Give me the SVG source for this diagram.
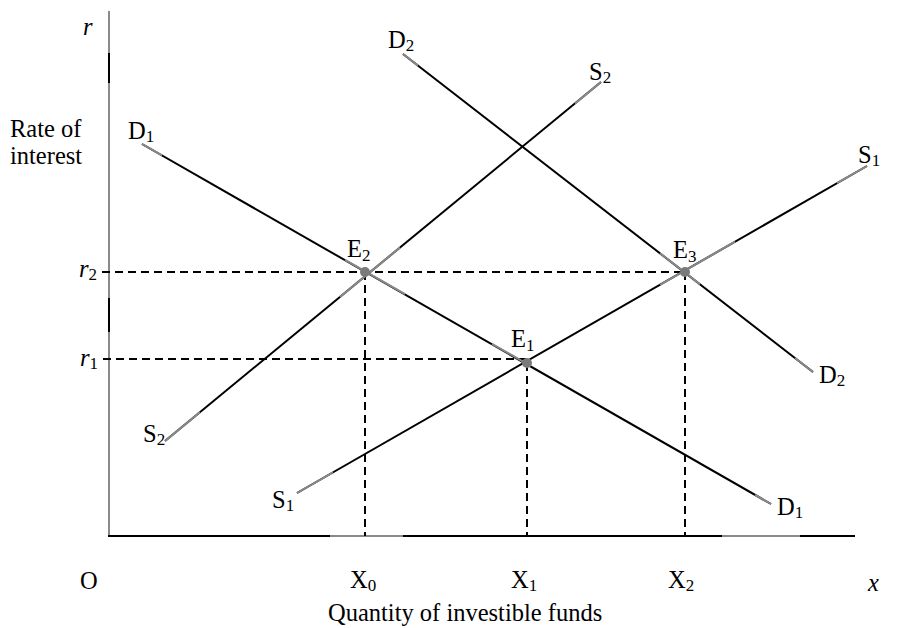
<svg xmlns="http://www.w3.org/2000/svg" width="911" height="628" viewBox="0 0 911 628">
<style>
text{font-family:"Liberation Serif","Times New Roman",serif;font-size:24.5px;fill:#000}
.i{font-style:italic}
.sub{font-size:17px;font-style:normal}
.k{stroke:#000;stroke-width:2;fill:none}
.g{stroke:#8a8a8a;stroke-width:2;fill:none}
.d{stroke:#000;stroke-width:2;stroke-dasharray:8 5;fill:none}
.dot{fill:#7a7a7a}
</style>
<rect width="911" height="628" fill="#fff"/>
<g id="axes">
<line class="g" x1="109" y1="11" x2="109" y2="536"/>
<line class="k" x1="109" y1="53" x2="109" y2="83"/>
<line class="k" x1="109" y1="298" x2="109" y2="332"/>
<line class="k" x1="108" y1="536" x2="855" y2="536"/>
<line class="g" x1="330" y1="536" x2="403" y2="536"/>
<line class="g" x1="722" y1="536" x2="800" y2="536"/>
</g>
<g id="guides">
<line class="d" x1="102" y1="272" x2="685" y2="272"/>
<line class="d" x1="103" y1="359" x2="527" y2="359"/>
<line class="d" x1="365" y1="272" x2="365" y2="536"/>
<line class="d" x1="527" y1="363" x2="527" y2="536"/>
<line class="d" x1="685" y1="272" x2="685" y2="536"/>
</g>
<g id="connectors">
<g id="D1">
<line class="k" x1="142" y1="144" x2="771" y2="504"/>
<line class="g" x1="142" y1="144" x2="162" y2="155.4"/>
<line class="g" x1="345" y1="259.8" x2="405" y2="294.1"/>
<line class="g" x1="492" y1="343.8" x2="527" y2="363.8"/>
<line class="g" x1="755" y1="494.8" x2="771" y2="504"/>
</g>
<g id="D2">
<line class="k" x1="403" y1="54" x2="813" y2="372"/>
<line class="g" x1="403" y1="54" x2="418" y2="65.6"/>
<line class="g" x1="660" y1="253.3" x2="700" y2="284.3"/>
<line class="g" x1="795" y1="358" x2="813" y2="372"/>
</g>
<g id="S1">
<line class="k" x1="297" y1="493" x2="867" y2="166"/>
<line class="g" x1="297" y1="493" x2="333" y2="472.3"/>
<line class="g" x1="660" y1="284.8" x2="735" y2="241.7"/>
<line class="g" x1="837" y1="183.2" x2="867" y2="166"/>
</g>
<g id="S2">
<line class="k" x1="165" y1="441" x2="601" y2="82"/>
<line class="g" x1="165" y1="441" x2="200" y2="412.2"/>
<line class="g" x1="340" y1="296.9" x2="400" y2="247.5"/>
<line class="g" x1="575" y1="103.4" x2="601" y2="82"/>
</g>
</g>
<g id="E2"><circle class="dot" cx="365" cy="272" r="5"/><text x="347" y="257">E<tspan class="sub" dy="4">2</tspan></text></g>
<g id="E1"><circle class="dot" cx="527" cy="363" r="5"/><text x="511" y="347">E<tspan class="sub" dy="4">1</tspan></text></g>
<g id="E3"><circle class="dot" cx="685" cy="272" r="5"/><text x="673" y="258">E<tspan class="sub" dy="4">3</tspan></text></g>
<g id="labels">
<text class="i" x="83" y="35">r</text>
<text x="10" y="137">Rate of</text>
<text x="10" y="164">interest</text>
<text x="128" y="139">D<tspan class="sub" dy="3">1</tspan></text>
<text x="388" y="48">D<tspan class="sub" dy="3">2</tspan></text>
<text x="589" y="80">S<tspan class="sub" dy="3">2</tspan></text>
<text x="858" y="163">S<tspan class="sub" dy="3">1</tspan></text>
<text x="143" y="442">S<tspan class="sub" dy="3">2</tspan></text>
<text x="272" y="508">S<tspan class="sub" dy="3">1</tspan></text>
<text x="819" y="383">D<tspan class="sub" dy="3">2</tspan></text>
<text x="777" y="515">D<tspan class="sub" dy="3">1</tspan></text>
<text class="i" x="79" y="277">r<tspan class="sub" dy="3">2</tspan></text>
<text class="i" x="80" y="366">r<tspan class="sub" dy="3">1</tspan></text>
<text x="80" y="589">O</text>
<text x="350" y="588">X<tspan class="sub" dy="3">0</tspan></text>
<text x="511" y="588">X<tspan class="sub" dy="3">1</tspan></text>
<text x="668" y="588">X<tspan class="sub" dy="3">2</tspan></text>
<text class="i" x="868" y="591">x</text>
<text x="328" y="621">Quantity of investible funds</text>
</g>
</svg>
